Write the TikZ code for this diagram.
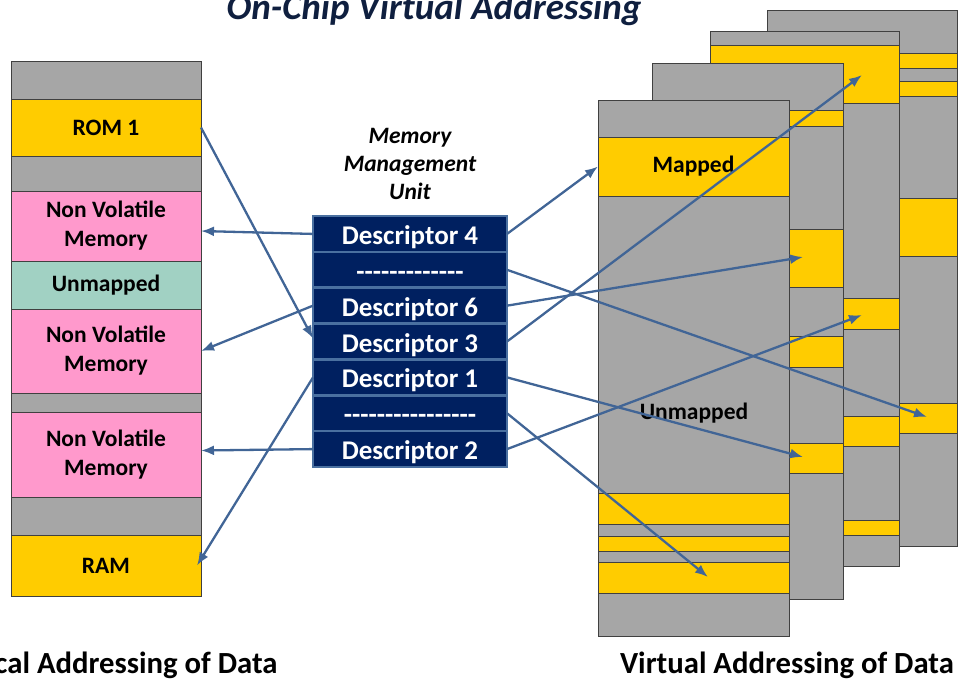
\documentclass[tikz,border=0pt]{standalone}
\usepackage{fontspec}
\setmainfont{Carlito}
\usetikzlibrary{arrows.meta,positioning}
\definecolor{memgray}{HTML}{A6A6A6}
\definecolor{memyellow}{HTML}{FFCC00}
\definecolor{mempink}{HTML}{FF99CC}
\definecolor{memteal}{HTML}{A1D1C3}
\definecolor{edgegray}{HTML}{404040}
\definecolor{mmunavy}{HTML}{002060}
\definecolor{rowblue}{HTML}{4A70A0}
\definecolor{linkblue}{HTML}{416596}
\definecolor{titlenavy}{HTML}{0F1F3F}
\tikzset{
  seg/.style={draw=edgegray, line width=0.8pt, minimum width=190pt, inner sep=0pt, outer sep=0pt,
    align=center, font=\fontsize{23.5}{29}\selectfont\bfseries},
  desc/.style={draw=rowblue, fill=mmunavy, line width=2.5pt, minimum width=194pt, minimum height=35.86pt,
    inner sep=0pt, outer sep=0pt, text height=21pt, text depth=0pt, text=white,
    font=\fontsize{27}{30}\selectfont\bfseries},
  page/.style={draw=edgegray, line width=0.8pt, fill=memgray},
  band/.style={draw=edgegray, line width=0.8pt, fill=memyellow},
  mapedge/.style={-{Latex[length=13pt,width=10pt]}, draw=linkblue, line width=2.3pt},
  heading/.style={font=\fontsize{30.7}{36}\selectfont\bfseries},
  tag/.style={font=\fontsize{23.5}{28}\selectfont\bfseries}
}
\begin{document}
\begin{tikzpicture}[x=1pt,y=-1pt]
\useasboundingbox (0,0) rectangle (965,681);
\node[font=\fontsize{37}{44}\selectfont\bfseries\itshape, text=titlenavy, anchor=base] (title) at (434,19) {On-Chip Virtual Addressing};

% virtual pages, back to front
\draw[page] (767,10) rectangle (957,546);
\draw[band] (767,53) rectangle (957,68);
\draw[band] (767,81) rectangle (957,96);
\draw[band] (767,198) rectangle (957,256);
\draw[band] (767,403) rectangle (957,433);

\draw[page] (710,31) rectangle (899,566);
\draw[band] (710,45) rectangle (899,103);
\draw[band] (710,298) rectangle (899,329);
\draw[band] (710,416) rectangle (899,446);
\draw[band] (710,520) rectangle (899,535);

\draw[page] (652,63) rectangle (843,599);
\draw[band] (652,110) rectangle (843,126);
\draw[band] (652,229) rectangle (843,287);
\draw[band] (652,336) rectangle (843,367);
\draw[band] (652,443) rectangle (843,473);

\draw[page] (598,100) rectangle (789,636);
\node[band, tag, minimum width=191pt, minimum height=59pt, inner sep=0pt, outer sep=0pt] (mapped) at (693.5,166.5) {Mapped};
\draw[band] (598,493) rectangle (789,524);
\draw[band] (598,536) rectangle (789,551);
\draw[band] (598,562) rectangle (789,593);
\node[tag] (unmapv) at (694,413) {Unmapped};

% arrow ends inside the pages
\coordinate (t4) at (927,417);
\coordinate (t3a) at (862,75);
\coordinate (t3b) at (862,315);
\coordinate (t2a) at (803,257);
\coordinate (t2b) at (803,457);
\coordinate (t1) at (708,577);

% physical memory map
\node[seg, fill=memgray, minimum height=38pt, anchor=north] (gap1) at (106,61) {};
\node[seg, fill=memyellow, minimum height=57pt, below=0pt of gap1] (rom) {ROM 1};
\node[seg, fill=memgray, minimum height=35pt, below=0pt of rom] (gap2) {};
\node[seg, fill=mempink, minimum height=70pt, below=0pt of gap2] (nvm1) {Non Volatile\\Memory};
\node[seg, fill=memteal, minimum height=48pt, below=0pt of nvm1] (unmapp) {Unmapped};
\node[seg, fill=mempink, minimum height=84pt, below=0pt of unmapp] (nvm2) {Non Volatile\\Memory};
\node[seg, fill=memgray, minimum height=19pt, below=0pt of nvm2] (gap3) {};
\node[seg, fill=mempink, minimum height=85pt, below=0pt of gap3] (nvm3) {Non Volatile\\Memory};
\node[seg, fill=memgray, minimum height=38pt, below=0pt of nvm3] (gap4) {};
\node[seg, fill=memyellow, minimum height=61pt, below=0pt of gap4] (ram) {RAM};

% MMU
\node[tag, font=\fontsize{23.5}{28}\selectfont\bfseries\itshape, align=center] (mmulbl) at (410,164) {Memory\\Management\\Unit};
\node[desc, anchor=north] (d4) at (410,216) {Descriptor 4};
\node[desc, below=0pt of d4] (dsep1) {-{}-{}-{}-{}-{}-{}-{}-{}-{}-{}-{}-{}-};
\node[desc, below=0pt of dsep1] (d6) {Descriptor 6};
\node[desc, below=0pt of d6] (d3) {Descriptor 3};
\node[desc, below=0pt of d3] (d1) {Descriptor 1};
\node[desc, below=0pt of d1] (dsep2) {-{}-{}-{}-{}-{}-{}-{}-{}-{}-{}-{}-{}-{}-{}-{}-};
\node[desc, below=0pt of dsep2] (d2) {Descriptor 2};

\node[heading, anchor=base east] (physlbl) at (281,673) {Physical Addressing of Data};
\node[heading, anchor=base] (virtlbl) at (787,673) {Virtual Addressing of Data};

% mappings
\draw[mapedge] (d4.west) -- ([yshift=-5pt]nvm1.east);
\draw[mapedge] (d6.west) -- (nvm2.east);
\draw[mapedge] (rom.east) -- ([yshift=3pt]d3.west);
\draw[mapedge] (d1.west) -- ([xshift=-4pt]ram.east);
\draw[mapedge] (d2.west) -- ([yshift=4pt]nvm3.east);
\draw[mapedge] (d4.east) -- (mapped.west);
\draw[mapedge] (dsep1.east) -- (t4);
\draw[mapedge] (d6.east) -- (t2a);
\draw[mapedge] (d3.east) -- (t3a);
\draw[mapedge] (d1.east) -- (t2b);
\draw[mapedge] (dsep2.east) -- (t1);
\draw[mapedge] (d2.east) -- (t3b);
\end{tikzpicture}
\end{document}
